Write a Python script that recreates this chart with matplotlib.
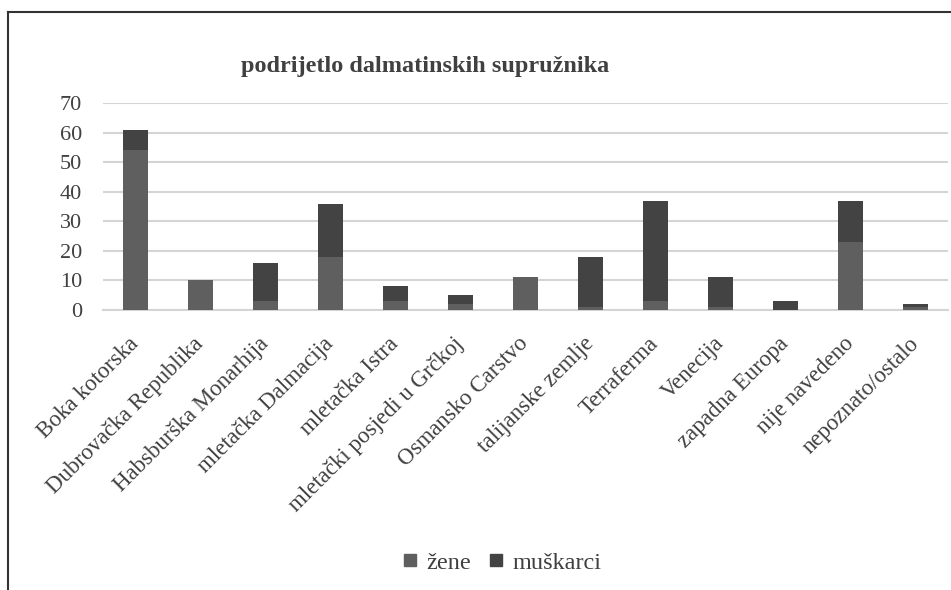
import numpy as np
import matplotlib
matplotlib.use('Agg')
import matplotlib.pyplot as plt
from matplotlib.lines import Line2D

categories = ['Boka kotorska', 'Dubrovačka Republika', 'Habsburška Monarhija',
              'mletačka Dalmacija', 'mletačka Istra', 'mletački posjedi u Grčkoj',
              'Osmansko Carstvo', 'talijanske zemlje', 'Terraferma', 'Venecija',
              'zapadna Europa', 'nije navedeno', 'nepoznato/ostalo']
zene = [54, 10, 3, 18, 3, 2, 11, 1, 3, 1, 0, 23, 1]
muskarci = [7, 0, 13, 18, 5, 3, 0, 17, 34, 10, 3, 14, 1]
yticks = [0, 10, 20, 30, 40, 50, 60, 70]

c_zene = '#5f5f5f'
c_musk = '#434343'
grid_c = '#d4d4d4'

plt.rcParams['font.family'] = ['Liberation Serif', 'DejaVu Serif']

fig = plt.figure(figsize=(9.51, 5.90), dpi=100)
ax = fig.add_axes([0.108, 0.4746, 0.889, 0.3508])

x = np.arange(len(categories))
ax.bar(x, zene, width=0.385, color=c_zene, label='žene', zorder=3)
ax.bar(x, muskarci, width=0.385, bottom=zene, color=c_musk, label='muškarci', zorder=3)

ax.set_xlim(-0.5, len(categories) - 0.5)
ax.set_ylim(0, 70)
ax.set_yticks(yticks)
ax.yaxis.grid(True, color=grid_c, linewidth=1.5, zorder=0)
for s in ['top', 'right', 'left']:
    ax.spines[s].set_visible(False)
ax.spines['bottom'].set_color(grid_c)
ax.spines['bottom'].set_linewidth(1.5)
ax.tick_params(axis='both', length=0, labelsize=16, colors='#404040')
ax.tick_params(axis='y', pad=15)
ax.set_xticks(x)
ax.set_xticklabels(categories, rotation=45, ha='right', va='center',
                   rotation_mode='anchor', fontsize=16.5, color='#404040')
ax.tick_params(axis='x', pad=22)

fig.text(0.447, 0.888, 'podrijetlo dalmatinskih supružnika', ha='center', va='center',
         fontsize=17.5, fontweight='bold', color='#404040')

handles = [Line2D([], [], marker='s', linestyle='none', markersize=9, color=c_zene),
           Line2D([], [], marker='s', linestyle='none', markersize=9, color=c_musk)]
fig.legend(handles, ['žene', 'muškarci'], loc='center', bbox_to_anchor=(0.519, 0.046),
           ncol=2, frameon=False, fontsize=17.5, handletextpad=-0.3, columnspacing=0.0,
           labelcolor='#404040')

# outer frame (top and left edges visible)
fig.add_artist(Line2D([0.008, 1.0], [0.98, 0.98], color='#333333', linewidth=1.5))
fig.add_artist(Line2D([0.008, 0.008], [0.0, 0.98], color='#333333', linewidth=1.5))

plt.savefig('out.png', dpi=100)
plt.close()
